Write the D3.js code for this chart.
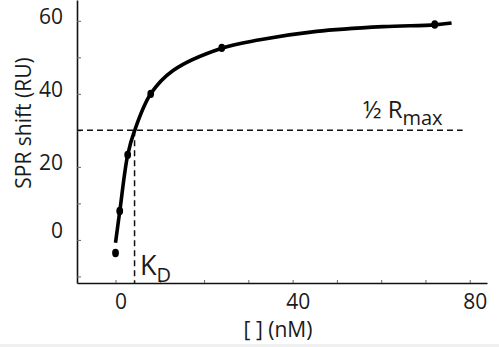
<html>
	<head>
		<title>SPR binding curve</title>
		<script src="https://d3js.org/d3.v7.min.js"></script>
		<style>
			body{
				margin:0px;
				background:#fff;
			}
			text{
				font-family:"Open Sans";
				fill:#1a1a1a;
			}
		</style>
	</head>
	<body>
		<div id="container"></div>

		<script>
		// measured points
		var concentrations = [0, 0.95, 2.75, 7.95, 24, 72.1]
		var responses = [-3.6, 7.9, 23.3, 40, 52.6, 59]

		// fitted curve
		var fitX = [0, 0.95, 2.75, 4.24, 7.95, 13, 24, 32.6, 45.4, 60.4, 72.1, 75.9]
		var fitY = [-0.8, 7.75, 23.3, 29.7, 40, 46.4, 52.5, 54.8, 57.1, 58.4, 58.9, 59.4]

		var halfRmax = 30
		var kd = 4.3
		var halfLineEnd = 78.4

		var xTicks = [0, 10, 20, 30, 40, 50, 60, 70, 80]
		var xLabels = [0, 40, 80]
		var yTicks = [-10, 0, 10, 20, 30, 40, 50, 60]
		var yLabels = [0, 20, 40, 60]

		var svg = d3.select('#container').append('svg')
			.attr('width', 499)
			.attr('height', 347)

		var x = d3.scaleLinear().domain([-8.7, 83.9]).range([77, 487])
		var y = d3.scaleLinear().domain([-11.8, 65.7]).range([283, 0])

		svg.append('rect')
			.attr('x', 0).attr('y', 344)
			.attr('width', 499).attr('height', 3)
			.attr('fill', '#f0f0f0')

		// axes, ticks point inward
		var xAxis = d3.axisBottom(x)
			.tickValues(xTicks)
			.tickSizeInner(-3)
			.tickSizeOuter(0)
			.tickPadding(11)
			.tickFormat(function(d){ return xLabels.indexOf(d) >= 0 ? d : '' })

		var yAxis = d3.axisLeft(y)
			.tickValues(yTicks)
			.tickSizeInner(-4)
			.tickSizeOuter(0)
			.tickPadding(14)
			.tickFormat(function(d){ return yLabels.indexOf(d) >= 0 ? d : '' })

		var gx = svg.append('g')
			.attr('transform', 'translate(0,' + y.range()[0] + ')')
			.call(xAxis)

		var gy = svg.append('g')
			.attr('transform', 'translate(' + x.range()[0] + ',0)')
			.call(yAxis)

		svg.selectAll('.domain').attr('stroke', '#111').attr('stroke-width', 1.6)
		svg.selectAll('.tick line').attr('stroke', '#666').attr('stroke-width', 1)
		svg.selectAll('.tick text')
			.style('font-family', 'Open Sans')
			.style('font-size', '21px')
			.attr('fill', '#1a1a1a')
		gx.selectAll('.tick text').attr('dx', 5)
		gy.selectAll('.tick text').attr('dy', function(d){ return d === 0 ? '-0.1em' : '0.12em' })

		// axis titles
		svg.append('text')
			.attr('x', 278)
			.attr('y', 337)
			.attr('text-anchor', 'middle')
			.style('font-size', '21px')
			.text('[ ] (nM)')

		svg.append('text')
			.attr('transform', 'translate(31,123) rotate(-90)')
			.attr('text-anchor', 'middle')
			.style('font-size', '21px')
			.text('SPR shift (RU)')

		// half Rmax and KD guides
		svg.append('line')
			.attr('x1', x(x.domain()[0])).attr('x2', x(halfLineEnd))
			.attr('y1', y(halfRmax)).attr('y2', y(halfRmax))
			.attr('stroke', '#111')
			.attr('stroke-width', 1.5)
			.attr('stroke-dasharray', '6,4')

		svg.append('line')
			.attr('x1', x(kd)).attr('x2', x(kd))
			.attr('y1', y(halfRmax)).attr('y2', y(y.domain()[0]))
			.attr('stroke', '#111')
			.attr('stroke-width', 1.5)
			.attr('stroke-dasharray', '6,4')

		var rmaxLabel = svg.append('text')
			.attr('x', 363)
			.attr('y', 118)
			.style('font-size', '24px')
		rmaxLabel.append('tspan').text('\u00BD R')
		rmaxLabel.append('tspan')
			.attr('dy', 7)
			.style('font-size', '20px')
			.text('max')

		var kdLabel = svg.append('text')
			.attr('x', 140)
			.attr('y', 275)
			.style('font-size', '27px')
		kdLabel.append('tspan').text('K')
		kdLabel.append('tspan')
			.attr('dy', 7)
			.style('font-size', '20px')
			.text('D')

		// fit curve
		var fit = fitX.map(function(d, i){ return {x: d, y: fitY[i]} })
		var line = d3.line()
			.x(function(d){ return x(d.x) })
			.y(function(d){ return y(d.y) })
			.curve(d3.curveCatmullRom.alpha(0.5))

		svg.append('path')
			.datum(fit)
			.attr('d', line)
			.attr('fill', 'none')
			.attr('stroke', '#000')
			.attr('stroke-width', 3.6)

		// data points
		var pts = concentrations.map(function(d, i){ return {x: d, y: responses[i]} })
		svg.selectAll('ellipse.pt')
			.data(pts)
			.enter().append('ellipse')
				.attr('class', 'pt')
				.attr('cx', function(d){ return x(d.x) })
				.attr('cy', function(d){ return y(d.y) })
				.attr('rx', 3.4)
				.attr('ry', 4.2)
				.attr('fill', '#000')
		</script>
	</body>
</html>
